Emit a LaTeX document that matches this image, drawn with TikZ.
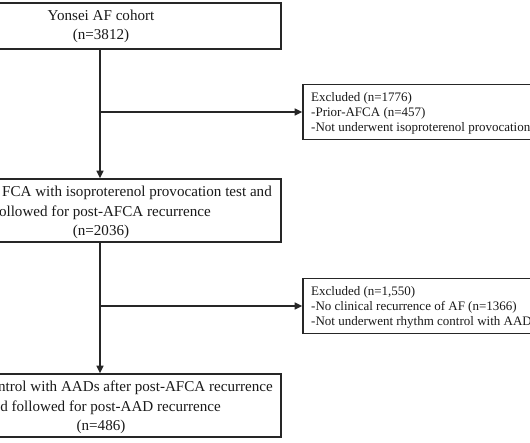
\documentclass[tikz,border=0pt]{standalone}
\usepackage{fontspec}
\setmainfont{Liberation Serif}
\usetikzlibrary{arrows.meta}
\begin{document}
\begin{tikzpicture}[x=1pt,y=-1pt,
  box/.style={draw=black!85,line width=1.6pt,inner sep=0pt},
  big/.style={font=\fontsize{15.1}{19.5}\selectfont,inner sep=0pt,text=black!90},
  small/.style={font=\fontsize{13}{15}\selectfont,inner sep=0pt,anchor=west,align=left,text=black!90},
  arr/.style={draw=black!85,line width=1.6pt,-{Triangle[length=7.5pt,width=7pt]}}]
\useasboundingbox (0,0) rectangle (530,442);
\clip (0,0) rectangle (530,442);
% main boxes (left parts lie outside the cropped view)
\node[box,minimum width=362pt,minimum height=46pt] (b1) at (100,26) {};
\node[box,minimum width=362pt,minimum height=63pt] (b2) at (100,210.5) {};
\node[box,minimum width=362pt,minimum height=63pt] (b3) at (100,405.5) {};
% exclusion boxes (right parts lie outside the cropped view)
\node[box,minimum width=347pt,minimum height=55pt] (e1) at (476.5,112) {};
\node[box,minimum width=347pt,minimum height=55pt] (e2) at (476.5,306) {};
% texts
\node[big,align=center] (t1) at (101,26.5) {Yonsei AF cohort\\(n=3812)};
\node[big,anchor=east] (t2a) at (272,193) {FCA with isoproterenol provocation test and};
\node[big,anchor=east] (t2b) at (211,213) {ollowed for post-AFCA recurrence};
\node[big] (t2c) at (101,232) {(n=2036)};
\node[big,anchor=east] (t3a) at (273,388) {ntrol with AADs after post-AFCA recurrence};
\node[big,anchor=east] (t3b) at (221,408) {d followed for post-AAD recurrence};
\node[big] (t3c) at (101,427) {(n=486)};
\node[small] (x1) at (311,113) {Excluded (n=1776)\\-Prior-AFCA (n=457)\\-Not underwent isoproterenol provocation};
\node[small] (x2) at (311,307) {Excluded (n=1,550)\\-No clinical recurrence of AF (n=1366)\\-Not underwent rhythm control with AAD};
% connectors
\coordinate (j1) at (100,112);
\coordinate (j2) at (100,306);
\draw[arr] (b1.south) -- (b2.north);
\draw[arr] (b2.south) -- (b3.north);
\draw[arr] (j1) -- (e1.west);
\draw[arr] (j2) -- (e2.west);
\end{tikzpicture}
\end{document}
